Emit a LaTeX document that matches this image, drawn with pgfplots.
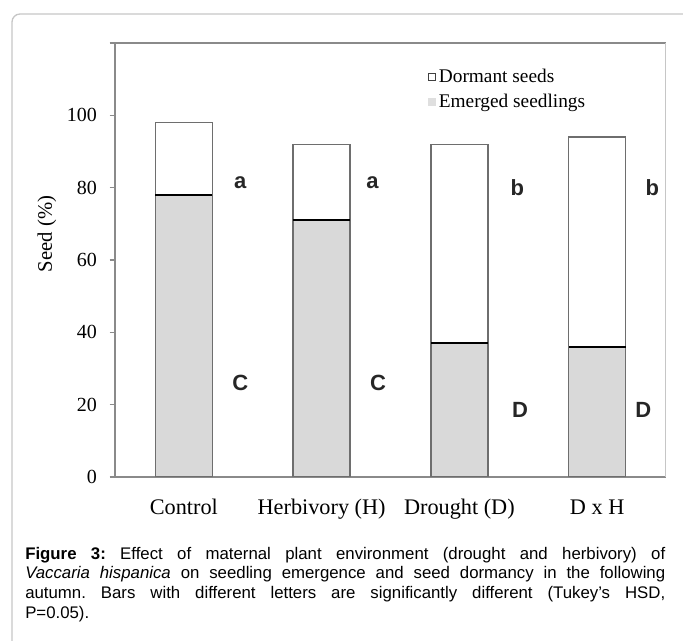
\documentclass[border=0pt]{standalone}
\usepackage{fontspec}
\setmainfont{Liberation Serif}
\newfontfamily\sansf{Liberation Sans}
\usepackage{pgfplots}
\usepackage{pgfplotstable}
\pgfplotsset{compat=1.18}
\definecolor{emfill}{HTML}{D9D9D9}
\definecolor{edge}{HTML}{6E6E6E}
\definecolor{axgray}{HTML}{8A8A8A}
\pgfplotstableread{
x em dor
0 78 20
1 71 21
2 37 55
3 36 58
}\data
\frenchspacing
\begin{document}
\begin{tikzpicture}[x=1pt,y=1pt]
\begin{axis}[
  at={(86.25pt,123pt)}, anchor=south west,
  scale only axis, width=413.25pt, height=325.5pt,
  xmin=-0.5, xmax=3.5, ymin=0, ymax=120,
  ybar, bar width=0.413,
  axis x line*=bottom, axis y line*=left,
  axis line style={draw=axgray, line width=1pt},
  tick align=outside, major tick length=4pt, minor tick length=4pt,
  tick style={draw=axgray, line width=0.8pt},
  xtick={0,1,2,3},
  xticklabels={Control, Herbivory (H), Drought (D), D x H},
  xtick style={draw=none},
  minor xtick={-0.5,0.5,1.5,2.5,3.5},
  minor tick style={draw=axgray, line width=0.8pt},
  ytick={0,20,40,60,80,100,120},
  yticklabels={0,20,40,60,80,100,},
  /pgf/number format/assume math mode=true,
  xticklabel style={font=\fontsize{16.7}{18}\selectfont, text height=0.72em, text depth=0.22em, yshift=-13.5pt},
  yticklabel style={font=\fontsize{15}{17}\selectfont, xshift=-6pt},
  ylabel={Seed (\%)},
  ylabel style={at={(axis description cs:-0.1234,0.56)}, anchor=center, font=\fontsize{15.5}{17}\selectfont},
  legend style={draw=none, fill=none, at={(axis description cs:0.56,0.953)}, anchor=north west,
    font=\fontsize{14.5}{16}\selectfont, row sep=3.5pt},
  legend cell align=left,
]
\addplot[fill=white, draw=edge, line width=1.1pt, bar shift=0pt,
  legend image code/.code={\draw[draw=black!75, fill=white, line width=0.8pt] (0pt,-2.6pt) rectangle (5.2pt,2.6pt);}]
  table[x=x, y expr=\thisrow{em}+\thisrow{dor}] {\data};
\addlegendentry{Dormant seeds}
\addplot[fill=emfill, draw=edge, line width=1.1pt, bar shift=0pt,
  legend image code/.code={\fill[gray!25] (0pt,-2.6pt) rectangle (5.2pt,2.6pt);}]
  table[x=x, y=em] {\data};
\addlegendentry{Emerged seedlings}
\addplot[sharp plot, only marks, mark=-, mark size=21.4pt, mark options={draw=black, line width=1.5pt}, forget plot]
  table[x=x, y=em] {\data};
\draw[draw=axgray, line width=1pt] (axis description cs:0,1) -- (axis description cs:1,1);
\draw[draw=gray!45, line width=1pt] (axis description cs:1,1) -- (axis description cs:1,0);
\begin{scope}[every node/.style={font=\sansf\bfseries\fontsize{16.5}{18}\selectfont, text=black!85}]
\node at (axis cs:0.41,81.3) {a};
\node at (axis cs:0.41,26) {C};
\node at (axis cs:1.37,81.3) {a};
\node at (axis cs:1.41,26) {C};
\node at (axis cs:2.42,80) {b};
\node at (axis cs:2.44,18.5) {D};
\node at (axis cs:3.40,80) {b};
\node at (axis cs:3.335,18.5) {D};
\end{scope}
\end{axis}
\node[anchor=north west, inner sep=0pt, text width=480pt, align=justify,
  font=\sansf\fontsize{12.6}{14.8}\selectfont] at (18.75pt,70.7pt)
  {\textbf{Figure 3:} Effect of maternal plant environment (drought and herbivory) of\linebreak
   \textit{Vaccaria hispanica} on seedling emergence and seed dormancy in the following\linebreak
   autumn. Bars with different letters are significantly different (Tukey’s HSD,\linebreak
   P=0.05).};
\pgfresetboundingbox
\useasboundingbox (0pt,0pt) rectangle (512.25pt,480.75pt);
\begin{scope}
\clip (0pt,0pt) rectangle (512.25pt,480.75pt);
\draw[rounded corners=6pt, draw=gray!45, line width=1pt] (9pt,-20pt) rectangle (540pt,470.25pt);
\end{scope}
\end{tikzpicture}
\end{document}
